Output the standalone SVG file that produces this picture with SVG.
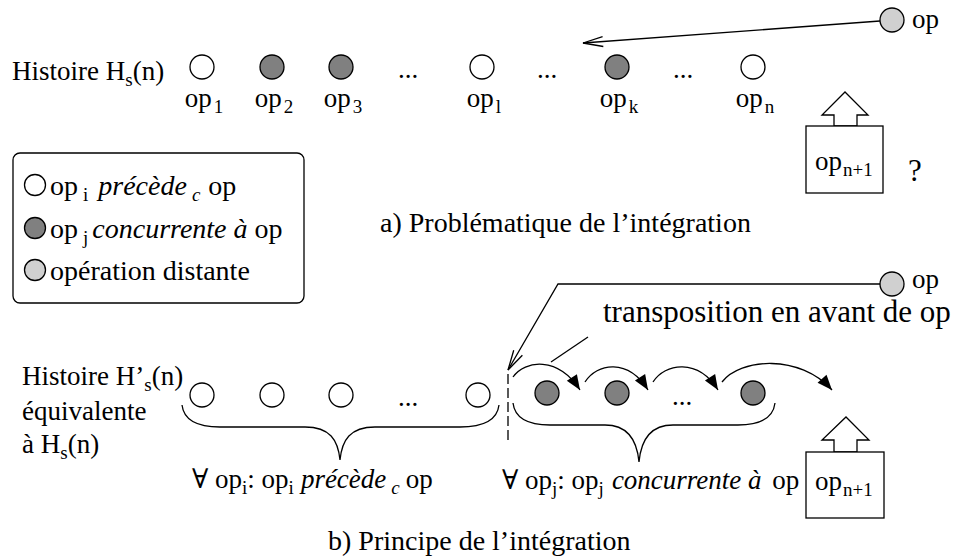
<svg xmlns="http://www.w3.org/2000/svg" width="965" height="557" viewBox="0 0 965 557">
<defs>
<style>
text{font-family:"Liberation Serif","Times New Roman","DejaVu Serif",serif;font-size:27px;fill:#000}
.sub{font-size:19px}
.it{font-style:italic}
.lg{font-size:28px}
.cap{font-size:28px}
.w{fill:#fff;stroke:#000;stroke-width:1.3}
.d{fill:#808080;stroke:#000;stroke-width:1.3}
.l{fill:#d0d0d0;stroke:#000;stroke-width:1.3}
.ln{fill:none;stroke:#000;stroke-width:1.3}
.mid{text-anchor:middle}
</style>
<marker id="open" markerUnits="userSpaceOnUse" viewBox="-22 -8 24 16" markerWidth="24" markerHeight="16" refX="0" refY="0" orient="auto">
<path d="M-20,-5 L0,0 L-20,5" fill="none" stroke="#000" stroke-width="1.3"/>
</marker>
<marker id="fill" markerUnits="userSpaceOnUse" viewBox="-16 -7 18 14" markerWidth="18" markerHeight="14" refX="0" refY="0" orient="auto">
<path d="M0,0 L-15,-6 L-15,6 z" fill="#000"/>
</marker>
</defs>

<!-- a) top part -->
<g id="label-histoire-a">
<text x="12" y="80">Histoire H<tspan class="sub" dy="6">s</tspan><tspan dy="-6">(n)</tspan></text>
</g>
<g id="op1"><circle class="w" cx="202" cy="67" r="12"/><text class="mid" x="204" y="107">op<tspan class="sub" dx="2" dy="6">1</tspan></text></g>
<g id="op2"><circle class="d" cx="272" cy="67" r="12"/><text class="mid" x="274" y="107">op<tspan class="sub" dx="2" dy="6">2</tspan></text></g>
<g id="op3"><circle class="d" cx="341" cy="67" r="12"/><text class="mid" x="343" y="107">op<tspan class="sub" dx="2" dy="6">3</tspan></text></g>
<g id="dots-a1"><text class="mid" x="408" y="78">...</text></g>
<g id="opl"><circle class="w" cx="482" cy="67" r="12"/><text class="mid" x="484" y="107">op<tspan class="sub" dx="2" dy="6">l</tspan></text></g>
<g id="dots-a2"><text class="mid" x="547" y="78">...</text></g>
<g id="opk"><circle class="d" cx="617" cy="67" r="12"/><text class="mid" x="619" y="107">op<tspan class="sub" dx="2" dy="6">k</tspan></text></g>
<g id="dots-a3"><text class="mid" x="683" y="78">...</text></g>
<g id="opn"><circle class="w" cx="753" cy="67" r="12"/><text class="mid" x="755" y="107">op<tspan class="sub" dx="2" dy="6">n</tspan></text></g>
<g id="op-remote-a"><circle class="l" cx="892" cy="20" r="12"/><text x="912" y="28">op</text></g>
<g id="opn1-a">
<polygon class="w" points="834,126 834,115 822,115 845,92 868,115 857,115 857,126"/>
<rect class="w" x="806" y="126" width="77" height="67"/>
<text x="815" y="170">op<tspan class="sub" dx="1" dy="6">n+1</tspan></text>
</g>
<g id="question"><text x="908" y="181" style="font-size:31px">?</text></g>
<g id="caption-a"><text class="cap" x="380" y="232">a) Problématique de l’intégration</text></g>

<!-- legend -->
<g id="legend">
<rect x="13" y="153" width="291" height="150" rx="7" fill="#fff" stroke="#000" stroke-width="1.3"/>
<circle class="w" cx="35" cy="185" r="10.5"/>
<circle class="d" cx="35" cy="228" r="10.5"/>
<circle class="l" cx="35" cy="270" r="10.5"/>
<text class="lg" x="50" y="195">op<tspan class="sub" dx="5" dy="6">i</tspan><tspan class="it" dx="10" dy="-6">précède</tspan><tspan class="sub it" dx="5" dy="6">c</tspan><tspan dx="8" dy="-6">op</tspan></text>
<text class="lg" x="50" y="238">op<tspan class="sub" dx="5" dy="6">j</tspan><tspan class="it" dx="4" dy="-6">concurrente à</tspan><tspan> op</tspan></text>
<text class="lg" x="50" y="280">opération distante</text>
</g>

<!-- b) bottom part -->
<g id="label-histoire-b">
<text x="22" y="385">Histoire H’<tspan class="sub" dy="6">s</tspan><tspan dy="-6">(n)</tspan></text>
<text x="22" y="420">équivalente</text>
<text x="22" y="453">à   H<tspan class="sub" dy="6">s</tspan><tspan dy="-6">(n)</tspan></text>
</g>
<g id="b-w1"><circle class="w" cx="202" cy="395" r="12"/></g>
<g id="b-w2"><circle class="w" cx="272" cy="395" r="12"/></g>
<g id="b-w3"><circle class="w" cx="341" cy="395" r="12"/></g>
<g id="b-dots1"><text class="mid" x="408" y="406">...</text></g>
<g id="b-w4"><circle class="w" cx="478" cy="395" r="12"/></g>
<g id="b-d1"><circle class="d" cx="547" cy="393" r="12"/></g>
<g id="b-d2"><circle class="d" cx="617" cy="393" r="12"/></g>
<g id="b-dots2"><text class="mid" x="682" y="405">...</text></g>
<g id="b-d3"><circle class="d" cx="753" cy="393" r="12"/></g>
<g id="op-remote-b"><circle class="l" cx="892" cy="284" r="12"/><text x="912" y="288">op</text></g>
<g id="transposition-label"><text x="603" y="322" style="font-size:31px">transposition en avant de op</text></g>
<g id="opn1-b">
<polygon class="w" points="834,452 834,440 822,440 846,417 869,440 857,440 857,452"/>
<rect class="w" x="806" y="452" width="78" height="66"/>
<text x="815" y="490">op<tspan class="sub" dx="1" dy="6">n+1</tspan></text>
</g>
<g id="brace-label-i"><text x="192" y="488">∀ op<tspan class="sub" dy="6">i</tspan><tspan dy="-6">: op</tspan><tspan class="sub" dy="6">i</tspan><tspan class="it" dx="7" dy="-6">précède</tspan><tspan class="sub it" dx="5" dy="6">c</tspan><tspan dx="6" dy="-6">op</tspan></text></g>
<g id="brace-label-j"><text x="502" y="489">∀ op<tspan class="sub" dy="6">j</tspan><tspan dy="-6">: op</tspan><tspan class="sub" dy="6">j</tspan><tspan class="it" dx="8" dy="-6">concurrente à</tspan><tspan dx="4"> op</tspan></text></g>
<g id="caption-b"><text class="cap" x="328" y="550">b) Principe de l’intégration</text></g>

<!-- connectors -->
<g id="connectors">
<line class="ln" x1="880" y1="21" x2="583" y2="43" marker-end="url(#open)"/>
<polyline class="ln" points="880,284 558,284 508,370" marker-end="url(#open)"/>
<line class="ln" x1="508" y1="374" x2="508" y2="442" stroke-dasharray="10,4"/>
<line class="ln" x1="551" y1="362" x2="588" y2="337"/>
<path class="ln" d="M513,377 C525,360 558,356 580,390" marker-end="url(#fill)"/>
<path class="ln" d="M585,382 C597,363 628,358 648,390" marker-end="url(#fill)"/>
<path class="ln" d="M653,382 C665,363 698,358 718,390" marker-end="url(#fill)"/>
<path class="ln" d="M722,382 C740,358 800,354 832,390" marker-end="url(#fill)"/>
<path class="ln" d="M182,405 C184,422 200,427 220,427 L305,427 C330,427 338,440 340,460 C342,440 350,427 375,427 L460,427 C480,427 497,422 499,405"/>
<path class="ln" d="M513,403 C515,420 530,425 550,425 L605,425 C628,425 637,440 639,462 C641,440 650,425 673,425 L738,425 C758,425 773,420 775,403"/>
</g>
</svg>
